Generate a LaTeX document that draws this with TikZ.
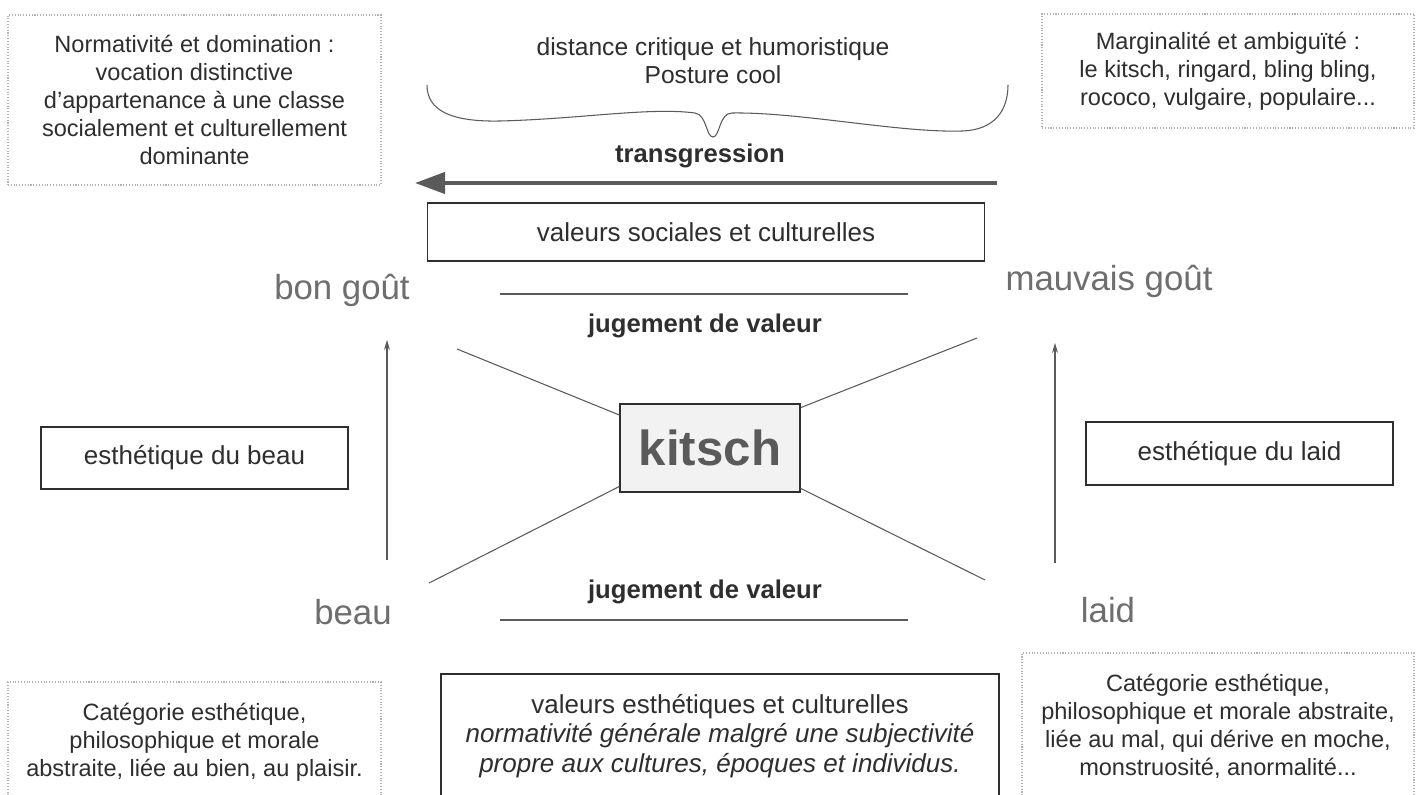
\documentclass[tikz,border=0pt]{standalone}
\usepackage{fontspec}
\setmainfont{Liberation Sans}
\usepackage{tikz}
\usetikzlibrary{arrows.meta, positioning, calc}
\definecolor{ink}{HTML}{2E2E2E}
\definecolor{soft}{HTML}{6E6E6E}
\definecolor{rule}{HTML}{5A5A5A}
\tikzset{
  >=Stealth,
  valbox/.style    = {draw=ink, line width=0.7pt, rectangle, inner sep=2pt,
                      font=\fontsize{14.8}{16.6}\selectfont, align=center},
  kitschbox/.style = {draw=ink, line width=0.7pt, fill=gray!10, inner sep=2pt,
                      font=\fontsize{28}{30}\selectfont\bfseries, text=rule},
  note/.style      = {draw=gray!60, densely dotted, line width=0.6pt, inner sep=2pt,
                      font=\fontsize{13.4}{15.9}\selectfont, align=center},
  pole/.style      = {font=\fontsize{19.8}{22}\selectfont, text=soft, inner sep=0pt},
  judge/.style     = {font=\fontsize{14.6}{16}\selectfont\bfseries, inner sep=1pt},
  toptext/.style   = {font=\fontsize{14}{16}\selectfont, align=center, inner sep=1pt},
  spoke/.style     = {draw=rule, line width=0.6pt},
  hrule/.style     = {draw=rule, line width=0.8pt},
  rise/.style      = {draw=rule, line width=0.6pt, -{Stealth[length=2mm, width=1.2mm]}},
  transarrow/.style= {draw=rule, line width=2.3pt, -{Triangle[length=6mm, width=4.2mm]}},
}

\begin{document}
\begin{tikzpicture}[x=0.2mm, y=-0.2mm,
  every node/.style = {text=ink}]

  \useasboundingbox (0,0) rectangle (1425,795);
  \fill[white] (0,0) rectangle (1425,795);
  \clip (0,0) rectangle (1425,795);

  % =====================================================================
  % centre: kitsch and the four spokes
  % =====================================================================
  \node[kitschbox, minimum width=36mm, minimum height=17.6mm] (kitsch) at (710,448) {kitsch};

  \coordinate (ul) at (457,349);
  \coordinate (ur) at (977,338);
  \coordinate (ll) at (429,583);
  \coordinate (lr) at (985,580);
  \draw[spoke] (kitsch.160) -- (ul);
  \draw[spoke] (kitsch.24)  -- (ur);
  \draw[spoke] (kitsch.203) -- (ll);
  \draw[spoke] (kitsch.336) -- (lr);

  % =====================================================================
  % value boxes
  % =====================================================================
  \node[valbox, minimum width=111.4mm, minimum height=11.6mm] (soc)  at (706,232)
    {valeurs sociales et culturelles};
  \node[valbox, minimum width=61.4mm, minimum height=12.4mm] (aesB) at (194.5,458)
    {esthétique du beau};
  \node[valbox, minimum width=61.4mm, minimum height=12.6mm] (aesL) at (1239.5,453.5)
    {esthétique du laid};
  \node[valbox, minimum width=111.6mm, minimum height=24.8mm] (esth) at (720,736)
    {valeurs esthétiques et culturelles\\
     \textit{normativité générale malgré une subjectivité}\\
     \textit{propre aux cultures, époques et individus.}};

  % poles
  \node[pole] (bon)     at (342,290)  {bon goût};
  \node[pole] (mauvais) at (1109,281) {mauvais goût};
  \node[pole] (beau)    at (353,612)  {beau};
  \node[pole] (laid)    at (1108,610) {laid};

  % beau -> bon gout, laid -> mauvais gout
  \coordinate (beauFoot) at (387,560);
  \coordinate (bonHead)  at (387,340);
  \coordinate (laidFoot) at (1055,563);
  \coordinate (mauvHead) at (1055,343);
  \draw[rise] (beauFoot) -- (bonHead);
  \draw[rise] (laidFoot) -- (mauvHead);

  % judgements
  \node[judge] (jugeH) at (705,326) {jugement de valeur};
  \node[judge] (jugeB) at (705,592) {jugement de valeur};
  \draw[hrule] (500,294) -- (908,294);
  \draw[hrule] (500,620) -- (908,620);

  % =====================================================================
  % top: brace and transgression
  % =====================================================================
  \node[toptext] (posture) at (713,61) {distance critique et humoristique\\Posture cool};
  \draw[rule, line width=0.6pt]
    (427,85) .. controls (427,110) and (450,122) .. (500,121)
    .. controls (580,119) and (650,107) .. (695,113)
    .. controls (707,115) and (706,137) .. (713,137)
    .. controls (720,137) and (719,113) .. (732,113)
    .. controls (800,112) and (900,133) .. (962,131)
    .. controls (995,130) and (1008,110) .. (1008,85);

  \node[judge] (trans) at (700,156) {transgression};
  \coordinate (tS) at (997,183);
  \coordinate (tE) at (415,183);
  \draw[transarrow] (tS) -- (tE);

  % =====================================================================
  % dotted notes
  % =====================================================================
  \node[note, minimum width=74.6mm, minimum height=34mm] (domin) at (194.5,100)
    {Normativité et domination :\\vocation distinctive\\d’appartenance à une classe\\
     socialement et culturellement\\dominante};
  \node[note, minimum width=74.4mm, minimum height=22.8mm] (margin) at (1228,71)
    {Marginalité et ambiguïté :\\le kitsch, ringard, bling bling,\\rococo, vulgaire, populaire...};
  \node[note, minimum width=74.6mm, minimum height=24mm] (bien) at (194.5,742)
    {Catégorie esthétique,\\philosophique et morale\\abstraite, liée au bien, au plaisir.};
  \node[note, minimum width=78.4mm, minimum height=29.2mm] (mal) at (1218,726)
    {Catégorie esthétique,\\philosophique et morale abstraite,\\liée au mal, qui dérive en moche,\\
     monstruosité, anormalité...};

\end{tikzpicture}
\end{document}
